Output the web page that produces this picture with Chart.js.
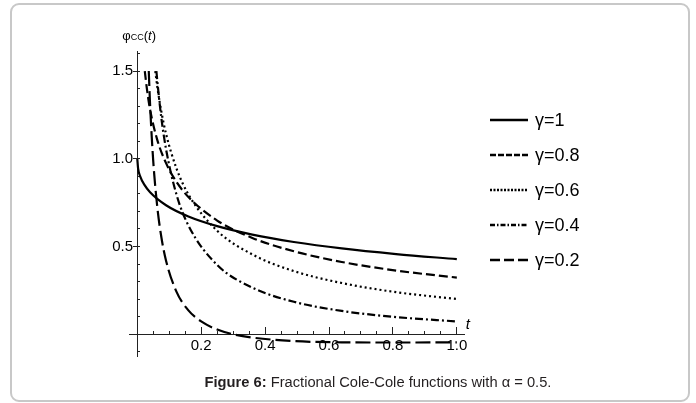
<!DOCTYPE html>
<html>
<head>
<meta charset="utf-8">
<script src="https://cdn.jsdelivr.net/npm/chart.js@4"></script>
<style>
  html, body { margin: 0; padding: 0; background: #fff; }
  #wrap { position: relative; width: 696px; height: 403px; overflow: hidden; }
  #frame { position: absolute; left: 10px; top: 3px; width: 680px; height: 399px; box-sizing: border-box;
           border: 2px solid #c8c8c8; border-radius: 9px; }
  #plot { position: absolute; left: 0; top: 0; }
  #caption { position: absolute; left: 0; top: 374px; width: 756px; text-align: center;
             font: 14.7px 'Liberation Sans', Arial, sans-serif; color: #231f20; }
</style>
</head>
<body>
<div id="wrap">
  <div id="frame"></div>
  <canvas id="plot" width="696" height="403"></canvas>
  <div id="caption"><b>Figure 6:</b> Fractional Cole-Cole functions with α = 0.5.</div>
</div>
<script>
const NARROW = "'Liberation Sans Narrow', 'Liberation Sans', Arial, sans-serif";

// φCC(t) curves, one per γ (t on x, value on y)
const tG10 = [0, 0.0025, 0.01, 0.0225, 0.04, 0.09, 0.16, 0.25, 0.36, 0.49, 0.64, 0.81, 1.0];
const phiG10 = [1.0, 0.946, 0.896, 0.851, 0.809, 0.735, 0.671, 0.616, 0.568, 0.526, 0.489, 0.457, 0.428];

const tG08 = [0.0235, 0.03, 0.04, 0.0625, 0.09, 0.1225, 0.16, 0.25, 0.36, 0.49, 0.64, 0.81, 1.0];
const phiG08 = [1.5, 1.4, 1.281, 1.108, 0.975, 0.869, 0.782, 0.648, 0.549, 0.473, 0.412, 0.363, 0.323];

const tG06 = [0.0563, 0.0625, 0.075, 0.09, 0.1225, 0.16, 0.25, 0.36, 0.49, 0.64, 0.81, 1.0];
const phiG06 = [1.5, 1.413, 1.272, 1.142, 0.946, 0.797, 0.59, 0.455, 0.36, 0.292, 0.24, 0.201];

const tG04 = [0.0598, 0.0625, 0.075, 0.09, 0.1225, 0.16, 0.25, 0.36, 0.49, 0.64, 0.81, 1.0];
const phiG04 = [1.5, 1.446, 1.237, 1.055, 0.797, 0.62, 0.395, 0.266, 0.185, 0.133, 0.098, 0.073];

const tG02 = [0.0359, 0.04, 0.05, 0.0625, 0.075, 0.09, 0.1225, 0.16, 0.2, 0.25, 0.3, 0.36, 0.49, 0.64, 0.81, 1.0];
const phiG02 = [1.5, 1.31, 0.985, 0.727, 0.557, 0.419, 0.243, 0.136, 0.073, 0.027, 0.0, -0.019, -0.039, -0.046, -0.047, -0.046];

const seriesLabels = ['γ=1', 'γ=0.8', 'γ=0.6', 'γ=0.4', 'γ=0.2'];

// tick positions
const xMajorTicks = [0.2, 0.4, 0.6, 0.8, 1.0];
const xMinorTicks = [0.05, 0.1, 0.15, 0.2, 0.25, 0.3, 0.35, 0.4, 0.45, 0.5, 0.55, 0.6, 0.65, 0.7, 0.75, 0.8, 0.85, 0.9, 0.95, 1.0];
const yMajorTicks = [0.5, 1.0, 1.5];
const yMinorTicks = [-0.1, 0.1, 0.2, 0.3, 0.4, 0.5, 0.6, 0.7, 0.8, 0.9, 1.0, 1.1, 1.2, 1.3, 1.4, 1.5, 1.6];

// line styles: plot dash and the shorter dash used in the key
const plotDash = [[], [9, 4], [2, 3], [8, 3, 2, 3], [15, 5]];
const keyDash = [[], [6, 2], [2, 1.5], [5, 2, 1.5, 2], [10, 4]];

const pairs = (ts, ys) => ts.map((t, i) => ({ x: t, y: ys[i] }));
const curves = [pairs(tG10, phiG10), pairs(tG08, phiG08), pairs(tG06, phiG06), pairs(tG04, phiG04), pairs(tG02, phiG02)];

const setTicks = list => axis => { axis.ticks = list.map(v => ({ value: v })); };
const noHeight = s => { s.height = 0; };
const noWidth = s => { s.width = 0; };

//Key at the right plus the axis names
const annotate = {
  id: 'annotate',
  afterDraw(chart) {
    const ctx = chart.ctx;
    const xs = chart.scales.x, ys = chart.scales.y;
    ctx.save();
    chart.data.datasets.forEach((ds, i) => {
      const y = 120 + i * 35;
      ctx.setLineDash(keyDash[i]);
      ctx.lineWidth = 2.5;
      ctx.strokeStyle = ds.borderColor;
      ctx.beginPath();
      ctx.moveTo(490, y);
      ctx.lineTo(528, y);
      ctx.stroke();
      ctx.setLineDash([]);
      ctx.fillStyle = '#000';
      ctx.font = `18px ${NARROW}`;
      ctx.textBaseline = 'alphabetic';
      ctx.textAlign = 'left';
      ctx.fillText(ds.label, 535, y + 6);
    });

    // y axis name φCC(t)
    const x0 = xs.getPixelForValue(0), yTop = ys.top;
    let px = x0 - 15;
    const base = yTop - 12;
    ctx.fillStyle = '#000';
    ctx.font = `13px ${NARROW}`;
    ctx.fillText('φ', px, base);
    px += ctx.measureText('φ').width;
    ctx.font = `9px ${NARROW}`;
    ctx.fillText('CC', px, base);
    px += ctx.measureText('CC').width;
    ctx.font = `13px ${NARROW}`;
    ctx.fillText('(', px, base);
    px += ctx.measureText('(').width;
    ctx.font = `italic 13px ${NARROW}`;
    ctx.fillText('t', px, base);
    px += ctx.measureText('t').width;
    ctx.font = `13px ${NARROW}`;
    ctx.fillText(')', px, base);

    // x axis name
    ctx.font = `italic 15px ${NARROW}`;
    ctx.fillText('t', xs.getPixelForValue(1.0) + 9, ys.getPixelForValue(0) - 5);
    ctx.restore();
  }
};

const tickFont = { family: NARROW, size: 15 };

new Chart(document.getElementById('plot'), {
  type: 'line',
  data: {
    datasets: curves.map((pts, i) => ({
      label: seriesLabels[i],
      data: pts,
      borderColor: '#000',
      borderWidth: 2.2,
      borderDash: plotDash[i],
      pointRadius: 0,
      cubicInterpolationMode: 'monotone',
      fill: false
    }))
  },
  options: {
    responsive: false,
    animation: false,
    layout: { padding: { left: 129.3, right: 231.2, top: 51.75, bottom: 46.8 } },
    plugins: { legend: { display: false }, tooltip: { enabled: false } },
    scales: {
      x: {
        type: 'linear', min: -0.025, max: 1.025, position: { y: 0 },
        afterBuildTicks: setTicks(xMinorTicks), afterFit: noHeight,
        grid: { drawOnChartArea: false, tickLength: -4, tickColor: '#222' },
        border: { color: '#222', width: 1 },
        ticks: { display: false }
      },
      xMajor: {
        type: 'linear', axis: 'x', min: -0.025, max: 1.025, position: { y: 0 },
        afterBuildTicks: setTicks(xMajorTicks), afterFit: noHeight,
        grid: { drawOnChartArea: false, tickLength: -7, tickColor: '#222' },
        border: { display: false },
        ticks: { font: tickFont, color: '#000', padding: 10, maxRotation: 0, callback: v => v.toFixed(1) }
      },
      y: {
        type: 'linear', min: -0.125, max: 1.61, position: { x: 0 },
        afterBuildTicks: setTicks(yMinorTicks), afterFit: noWidth,
        grid: { drawOnChartArea: false, tickLength: -3, tickColor: '#222' },
        border: { color: '#222', width: 1 },
        ticks: { display: false }
      },
      yMajor: {
        type: 'linear', axis: 'y', min: -0.125, max: 1.61, position: { x: 0 },
        afterBuildTicks: setTicks(yMajorTicks), afterFit: noWidth,
        grid: { drawOnChartArea: false, tickLength: 4, tickColor: '#222' },
        border: { display: false },
        ticks: { font: tickFont, color: '#000', callback: v => v.toFixed(1) + ' ' }
      }
    }
  },
  plugins: [annotate]
});
</script>
</body>
</html>
